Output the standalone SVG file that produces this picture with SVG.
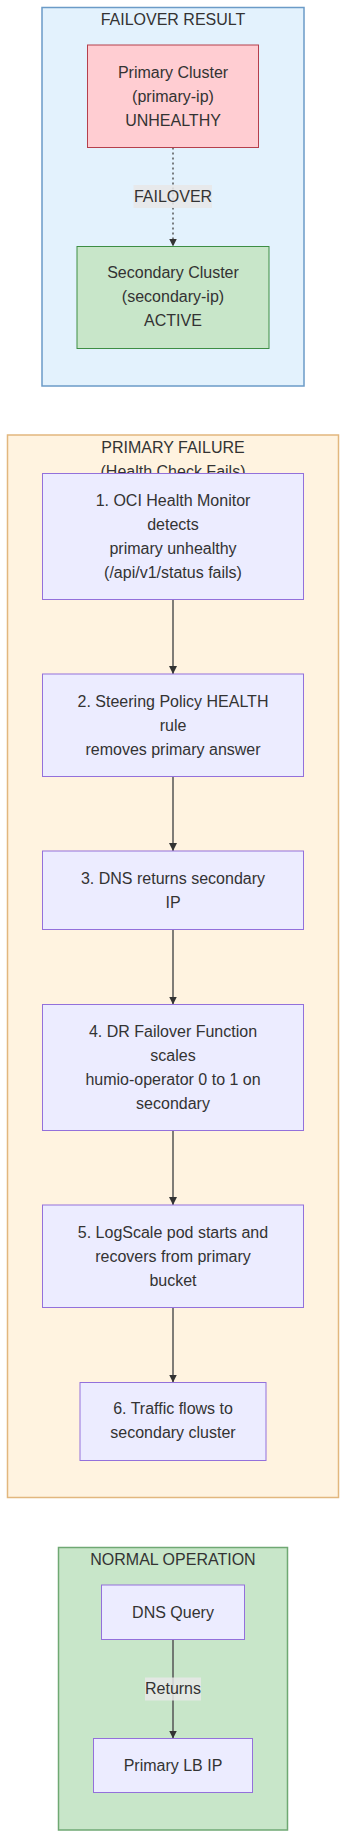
<svg xmlns="http://www.w3.org/2000/svg" width="346" height="1838" viewBox="0 0 346 1838">
<defs>
<style>
text{font-family:"Liberation Sans",Arial,sans-serif;font-size:16px;fill:#333;text-anchor:middle}
.node{fill:#ECECFF;stroke:#9370DB;stroke-width:1}
.edge{stroke:#555;stroke-width:1.5;fill:none}
.lbl{fill:#e8e8e8;opacity:0.85}
</style>
<marker id="arr" viewBox="0 0 10 10" refX="10" refY="5" markerWidth="8" markerHeight="8" markerUnits="userSpaceOnUse" orient="auto">
<path d="M0,0 L10,5 L0,10 z" fill="#333"/>
</marker>
</defs>
<rect width="346" height="1838" fill="#fff"/>

<g id="cluster-failover-result">
<rect x="42" y="7.5" width="262" height="378.5" fill="#E3F2FD" stroke="#6B9BC7" stroke-width="1.5"/>
<text x="173" y="25">FAILOVER RESULT</text>
</g>
<g id="cluster-primary-failure">
<rect x="7.5" y="435" width="331" height="1062.5" fill="#FFF3E0" stroke="#E2B77E" stroke-width="1.5"/>
<text x="173" y="453">PRIMARY FAILURE</text>
<text x="173" y="477">(Health Check Fails)</text>
</g>
<g id="cluster-normal-operation">
<rect x="58.5" y="1547.5" width="229" height="282.5" fill="#C8E6C9" stroke="#6FA873" stroke-width="1.5"/>
<text x="173" y="1565">NORMAL OPERATION</text>
</g>

<g id="edges">
<path class="edge" d="M173,147.5 V246.5" stroke-dasharray="2,3" marker-end="url(#arr)"/>
<rect class="lbl" x="133.5" y="185" width="78.5" height="23"/>
<text x="173" y="202">FAILOVER</text>
<path class="edge" d="M173,599.5 V674" marker-end="url(#arr)"/>
<path class="edge" d="M173,776.5 V851" marker-end="url(#arr)"/>
<path class="edge" d="M173,929.5 V1004.5" marker-end="url(#arr)"/>
<path class="edge" d="M173,1130.5 V1205" marker-end="url(#arr)"/>
<path class="edge" d="M173,1307.5 V1382.5" marker-end="url(#arr)"/>
<path class="edge" d="M173,1639.5 V1738.5" marker-end="url(#arr)"/>
<rect class="lbl" x="145" y="1677.5" width="56" height="23"/>
<text x="173" y="1694">Returns</text>
</g>

<g id="node-primary-cluster">
<rect x="87.5" y="45" width="171" height="102.5" fill="#FFCDD2" stroke="#B5404C" stroke-width="1"/>
<text x="173" y="78">Primary Cluster</text>
<text x="173" y="102">(primary-ip)</text>
<text x="173" y="126">UNHEALTHY</text>
</g>
<g id="node-secondary-cluster">
<rect x="77" y="246.5" width="192" height="102" fill="#C8E6C9" stroke="#3E8E44" stroke-width="1"/>
<text x="173" y="278">Secondary Cluster</text>
<text x="173" y="302">(secondary-ip)</text>
<text x="173" y="326">ACTIVE</text>
</g>

<g id="node-step1">
<rect class="node" x="42.5" y="473.5" width="261" height="126"/>
<text x="173" y="506">1. OCI Health Monitor</text>
<text x="173" y="530">detects</text>
<text x="173" y="554">primary unhealthy</text>
<text x="173" y="578">(/api/v1/status fails)</text>
</g>
<g id="node-step2">
<rect class="node" x="42.5" y="674" width="261" height="102.5"/>
<text x="173" y="707">2. Steering Policy HEALTH</text>
<text x="173" y="731">rule</text>
<text x="173" y="755">removes primary answer</text>
</g>
<g id="node-step3">
<rect class="node" x="42.5" y="851" width="261" height="78.5"/>
<text x="173" y="884">3. DNS returns secondary</text>
<text x="173" y="908">IP</text>
</g>
<g id="node-step4">
<rect class="node" x="42.5" y="1004.5" width="261" height="126"/>
<text x="173" y="1037">4. DR Failover Function</text>
<text x="173" y="1061">scales</text>
<text x="173" y="1085">humio-operator 0 to 1 on</text>
<text x="173" y="1109">secondary</text>
</g>
<g id="node-step5">
<rect class="node" x="42.5" y="1205" width="261" height="102.5"/>
<text x="173" y="1238">5. LogScale pod starts and</text>
<text x="173" y="1262">recovers from primary</text>
<text x="173" y="1286">bucket</text>
</g>
<g id="node-step6">
<rect class="node" x="80" y="1382.5" width="186" height="78"/>
<text x="173" y="1414">6. Traffic flows to</text>
<text x="173" y="1438">secondary cluster</text>
</g>

<g id="node-dns-query">
<rect class="node" x="101.5" y="1585" width="143" height="54.5"/>
<text x="173" y="1618">DNS Query</text>
</g>
<g id="node-primary-lb-ip">
<rect class="node" x="93.5" y="1738.5" width="159" height="54"/>
<text x="173" y="1771">Primary LB IP</text>
</g>
</svg>
